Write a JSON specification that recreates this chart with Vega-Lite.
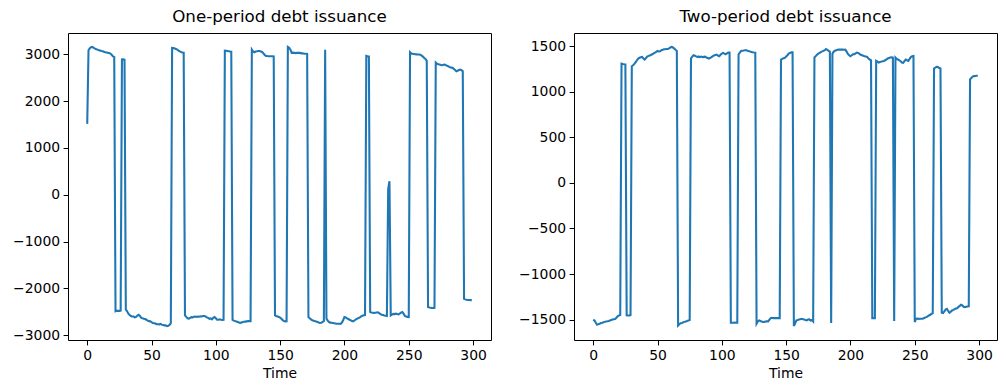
{
 "$schema": "https://vega.github.io/schema/vega-lite/v6.json",
 "background": "white",
 "padding": {"left": 5, "top": 8, "right": 5, "bottom": 2},
 "spacing": 19,
 "datasets": {"d": [
{"t":0,"a":1514,"b":-1502},{"t":1,"a":3085,"b":-1510},{"t":2,"a":3130,"b":-1535},{"t":3,"a":3150,"b":-1556},{"t":4,"a":3157,"b":-1550},{"t":5,"a":3140,"b":-1545},{"t":6,"a":3120,"b":-1538},{"t":7,"a":3110,"b":-1535},{"t":8,"a":3100,"b":-1530},{"t":9,"a":3085,"b":-1525},
{"t":10,"a":3080,"b":-1520},{"t":11,"a":3070,"b":-1518},{"t":12,"a":3065,"b":-1515},{"t":13,"a":3055,"b":-1510},{"t":14,"a":3045,"b":-1505},{"t":15,"a":3040,"b":-1500},{"t":16,"a":3035,"b":-1497},{"t":17,"a":3030,"b":-1494},{"t":18,"a":3015,"b":-1480},{"t":19,"a":2990,"b":-1465},
{"t":20,"a":2955,"b":-1454},{"t":21,"a":2945,"b":-1450},{"t":22,"a":-2490,"b":1309},{"t":23,"a":-2480,"b":1305},{"t":24,"a":-2480,"b":1302},{"t":25,"a":-2480,"b":1300},{"t":26,"a":-2475,"b":-1454},{"t":27,"a":2890,"b":-1455},{"t":28,"a":2895,"b":-1454},{"t":29,"a":2885,"b":-1452},
{"t":30,"a":-2450,"b":1280},{"t":31,"a":-2490,"b":1290},{"t":32,"a":-2540,"b":1305},{"t":33,"a":-2570,"b":1325},{"t":34,"a":-2590,"b":1345},{"t":35,"a":-2600,"b":1364},{"t":36,"a":-2600,"b":1372},{"t":37,"a":-2620,"b":1378},{"t":38,"a":-2610,"b":1382},{"t":39,"a":-2580,"b":1365},
{"t":40,"a":-2565,"b":1353},{"t":41,"a":-2590,"b":1370},{"t":42,"a":-2630,"b":1385},{"t":43,"a":-2640,"b":1393},{"t":44,"a":-2648,"b":1398},{"t":45,"a":-2655,"b":1405},{"t":46,"a":-2670,"b":1411},{"t":47,"a":-2690,"b":1420},{"t":48,"a":-2700,"b":1428},{"t":49,"a":-2705,"b":1438},
{"t":50,"a":-2720,"b":1448},{"t":51,"a":-2740,"b":1442},{"t":52,"a":-2745,"b":1444},{"t":53,"a":-2750,"b":1455},{"t":54,"a":-2765,"b":1460},{"t":55,"a":-2768,"b":1466},{"t":56,"a":-2770,"b":1465},{"t":57,"a":-2760,"b":1468},{"t":58,"a":-2775,"b":1469},{"t":59,"a":-2785,"b":1475},
{"t":60,"a":-2790,"b":1485},{"t":61,"a":-2790,"b":1491},{"t":62,"a":-2805,"b":1485},{"t":63,"a":-2800,"b":1473},{"t":64,"a":-2780,"b":1460},{"t":65,"a":-2745,"b":1448},{"t":66,"a":3136,"b":-1564},{"t":67,"a":3135,"b":-1550},{"t":68,"a":3125,"b":-1540},{"t":69,"a":3115,"b":-1538},
{"t":70,"a":3100,"b":-1530},{"t":71,"a":3080,"b":-1525},{"t":72,"a":3064,"b":-1520},{"t":73,"a":3050,"b":-1515},{"t":74,"a":3040,"b":-1509},{"t":75,"a":3036,"b":-1505},{"t":76,"a":-2576,"b":1364},{"t":77,"a":-2610,"b":1385},{"t":78,"a":-2640,"b":1400},{"t":79,"a":-2648,"b":1395},
{"t":80,"a":-2630,"b":1388},{"t":81,"a":-2615,"b":1382},{"t":82,"a":-2620,"b":1385},{"t":83,"a":-2605,"b":1380},{"t":84,"a":-2600,"b":1385},{"t":85,"a":-2610,"b":1378},{"t":86,"a":-2600,"b":1382},{"t":87,"a":-2605,"b":1384},{"t":88,"a":-2595,"b":1375},{"t":89,"a":-2600,"b":1370},
{"t":90,"a":-2590,"b":1364},{"t":91,"a":-2590,"b":1372},{"t":92,"a":-2600,"b":1380},{"t":93,"a":-2620,"b":1390},{"t":94,"a":-2630,"b":1398},{"t":95,"a":-2650,"b":1403},{"t":96,"a":-2640,"b":1407},{"t":97,"a":-2660,"b":1395},{"t":98,"a":-2630,"b":1389},{"t":99,"a":-2612,"b":1405},
{"t":100,"a":-2640,"b":1418},{"t":101,"a":-2668,"b":1426},{"t":102,"a":-2670,"b":1418},{"t":103,"a":-2660,"b":1411},{"t":104,"a":-2670,"b":1420},{"t":105,"a":-2675,"b":1429},{"t":106,"a":-2672,"b":1430},{"t":107,"a":3078,"b":-1535},{"t":108,"a":3075,"b":-1535},{"t":109,"a":3070,"b":-1535},
{"t":110,"a":3065,"b":-1533},{"t":111,"a":3060,"b":-1535},{"t":112,"a":3057,"b":-1535},{"t":113,"a":-2675,"b":1411},{"t":114,"a":-2690,"b":1430},{"t":115,"a":-2700,"b":1448},{"t":116,"a":-2710,"b":1450},{"t":117,"a":-2720,"b":1452},{"t":118,"a":-2730,"b":1455},{"t":119,"a":-2740,"b":1455},
{"t":120,"a":-2730,"b":1450},{"t":121,"a":-2720,"b":1445},{"t":122,"a":-2715,"b":1440},{"t":123,"a":-2710,"b":1436},{"t":124,"a":-2705,"b":1432},{"t":125,"a":-2700,"b":1430},{"t":126,"a":-2696,"b":1429},{"t":127,"a":-2700,"b":-1545},{"t":128,"a":3100,"b":-1520},{"t":129,"a":3060,"b":-1509},
{"t":130,"a":3043,"b":-1515},{"t":131,"a":3060,"b":-1522},{"t":132,"a":3065,"b":-1527},{"t":133,"a":3072,"b":-1525},{"t":134,"a":3070,"b":-1522},{"t":135,"a":3060,"b":-1520},{"t":136,"a":3050,"b":-1520},{"t":137,"a":3020,"b":-1500},{"t":138,"a":2985,"b":-1485},{"t":139,"a":2966,"b":-1480},
{"t":140,"a":2962,"b":-1484},{"t":141,"a":2960,"b":-1484},{"t":142,"a":2960,"b":-1483},{"t":143,"a":2958,"b":-1484},{"t":144,"a":2958,"b":-1484},{"t":145,"a":2955,"b":-1484},{"t":146,"a":-2576,"b":1353},{"t":147,"a":-2590,"b":1360},{"t":148,"a":-2600,"b":1368},{"t":149,"a":-2610,"b":1371},
{"t":150,"a":-2625,"b":1385},{"t":151,"a":-2650,"b":1400},{"t":152,"a":-2680,"b":1418},{"t":153,"a":-2700,"b":1425},{"t":154,"a":-2705,"b":1432},{"t":155,"a":-2703,"b":1432},{"t":156,"a":3157,"b":-1571},{"t":157,"a":3140,"b":-1540},{"t":158,"a":3100,"b":-1509},{"t":159,"a":3030,"b":-1505},
{"t":160,"a":3035,"b":-1500},{"t":161,"a":3030,"b":-1495},{"t":162,"a":3025,"b":-1491},{"t":163,"a":3030,"b":-1495},{"t":164,"a":3030,"b":-1500},{"t":165,"a":3030,"b":-1505},{"t":166,"a":3025,"b":-1509},{"t":167,"a":3020,"b":-1500},{"t":168,"a":3015,"b":-1498},{"t":169,"a":3010,"b":-1510},
{"t":170,"a":3010,"b":-1505},{"t":171,"a":3008,"b":-1520},{"t":172,"a":-2611,"b":1375},{"t":173,"a":-2640,"b":1390},{"t":174,"a":-2665,"b":1405},{"t":175,"a":-2680,"b":1418},{"t":176,"a":-2690,"b":1425},{"t":177,"a":-2700,"b":1435},{"t":178,"a":-2710,"b":1442},{"t":179,"a":-2720,"b":1448},
{"t":180,"a":-2730,"b":1455},{"t":181,"a":-2739,"b":1469},{"t":182,"a":-2735,"b":1460},{"t":183,"a":-2718,"b":1448},{"t":184,"a":-2700,"b":1440},{"t":185,"a":3095,"b":-1538},{"t":186,"a":-2647,"b":1418},{"t":187,"a":-2690,"b":1440},{"t":188,"a":-2720,"b":1450},{"t":189,"a":-2732,"b":1455},
{"t":190,"a":-2735,"b":1460},{"t":191,"a":-2740,"b":1462},{"t":192,"a":-2745,"b":1462},{"t":193,"a":-2750,"b":1462},{"t":194,"a":-2755,"b":1462},{"t":195,"a":-2755,"b":1460},{"t":196,"a":-2755,"b":1462},{"t":197,"a":-2760,"b":1440},{"t":198,"a":-2730,"b":1415},{"t":199,"a":-2680,"b":1400},
{"t":200,"a":-2611,"b":1389},{"t":201,"a":-2620,"b":1400},{"t":202,"a":-2640,"b":1410},{"t":203,"a":-2654,"b":1411},{"t":204,"a":-2670,"b":1420},{"t":205,"a":-2685,"b":1429},{"t":206,"a":-2700,"b":1425},{"t":207,"a":-2703,"b":1415},{"t":208,"a":-2680,"b":1405},{"t":209,"a":-2660,"b":1400},
{"t":210,"a":-2645,"b":1395},{"t":211,"a":-2633,"b":1390},{"t":212,"a":-2620,"b":1385},{"t":213,"a":-2600,"b":1382},{"t":214,"a":-2585,"b":1365},{"t":215,"a":-2576,"b":1353},{"t":216,"a":-2570,"b":1345},{"t":217,"a":2966,"b":-1484},{"t":218,"a":2960,"b":-1484},{"t":219,"a":2955,"b":-1484},
{"t":220,"a":-2505,"b":1338},{"t":221,"a":-2515,"b":1330},{"t":222,"a":-2520,"b":1320},{"t":223,"a":-2527,"b":1325},{"t":224,"a":-2520,"b":1330},{"t":225,"a":-2515,"b":1335},{"t":226,"a":-2512,"b":1338},{"t":227,"a":-2530,"b":1345},{"t":228,"a":-2550,"b":1355},{"t":229,"a":-2562,"b":1364},
{"t":230,"a":-2570,"b":1370},{"t":231,"a":-2578,"b":1375},{"t":232,"a":-2585,"b":1378},{"t":233,"a":-2590,"b":1375},{"t":234,"a":120,"b":-1516},{"t":235,"a":290,"b":1375},{"t":236,"a":-2576,"b":1360},{"t":237,"a":-2560,"b":1353},{"t":238,"a":-2545,"b":1345},{"t":239,"a":-2550,"b":1335},
{"t":240,"a":-2541,"b":1320},{"t":241,"a":-2550,"b":1316},{"t":242,"a":-2555,"b":1335},{"t":243,"a":-2540,"b":1353},{"t":244,"a":-2520,"b":1345},{"t":245,"a":-2505,"b":1338},{"t":246,"a":-2540,"b":1360},{"t":247,"a":-2590,"b":1380},{"t":248,"a":-2600,"b":1389},{"t":249,"a":-2611,"b":1392},
{"t":250,"a":-2615,"b":-1527},{"t":251,"a":3043,"b":-1491},{"t":252,"a":3015,"b":-1490},{"t":253,"a":3010,"b":-1492},{"t":254,"a":3005,"b":-1491},{"t":255,"a":3000,"b":-1490},{"t":256,"a":2998,"b":-1491},{"t":257,"a":2995,"b":-1485},{"t":258,"a":2994,"b":-1478},{"t":259,"a":2990,"b":-1473},
{"t":260,"a":2970,"b":-1465},{"t":261,"a":2950,"b":-1455},{"t":262,"a":2920,"b":-1447},{"t":263,"a":2900,"b":-1438},{"t":264,"a":2859,"b":-1429},{"t":265,"a":-2399,"b":1255},{"t":266,"a":-2410,"b":1265},{"t":267,"a":-2415,"b":1273},{"t":268,"a":-2420,"b":1270},{"t":269,"a":-2420,"b":1260},
{"t":270,"a":-2415,"b":1255},{"t":271,"a":2824,"b":-1425},{"t":272,"a":2800,"b":-1429},{"t":273,"a":2788,"b":-1410},{"t":274,"a":2780,"b":-1390},{"t":275,"a":2770,"b":-1382},{"t":276,"a":2766,"b":-1405},{"t":277,"a":2775,"b":-1425},{"t":278,"a":2781,"b":-1415},{"t":279,"a":2765,"b":-1400},
{"t":280,"a":2753,"b":-1393},{"t":281,"a":2740,"b":-1385},{"t":282,"a":2725,"b":-1378},{"t":283,"a":2715,"b":-1375},{"t":284,"a":2711,"b":-1360},{"t":285,"a":2690,"b":-1350},{"t":286,"a":2665,"b":-1338},{"t":287,"a":2639,"b":-1345},{"t":288,"a":2650,"b":-1360},{"t":289,"a":2665,"b":-1364},
{"t":290,"a":2675,"b":-1360},{"t":291,"a":2660,"b":-1356},{"t":292,"a":2639,"b":-1355},{"t":293,"a":-2222,"b":1135},{"t":294,"a":-2235,"b":1150},{"t":295,"a":-2245,"b":1165},{"t":296,"a":-2250,"b":1171},{"t":297,"a":-2250,"b":1172},{"t":298,"a":-2252,"b":1175},{"t":299,"a":-2252,"b":1175}
 ]},
 "hconcat": [
  {
   "width": 423, "height": 307,
   "data": {"name": "d"},
   "title": {"text": "One-period debt issuance"},
   "mark": {"type": "line", "color": "#1f77b4", "strokeWidth": 2.08},
   "encoding": {
    "x": {"field": "t", "type": "quantitative", "scale": {"domain": [-14.95, 313.95], "nice": false, "zero": false}, "axis": {"values": [0, 50, 100, 150, 200, 250, 300], "title": "Time", "format": "d"}},
    "y": {"field": "a", "type": "quantitative", "scale": {"domain": [-3103, 3455], "nice": false, "zero": false}, "axis": {"values": [-3000, -2000, -1000, 0, 1000, 2000, 3000], "title": null, "format": "d"}}
   }
  },
  {
   "width": 423, "height": 307,
   "data": {"name": "d"},
   "title": {"text": "Two-period debt issuance"},
   "mark": {"type": "line", "color": "#1f77b4", "strokeWidth": 2.08},
   "encoding": {
    "x": {"field": "t", "type": "quantitative", "scale": {"domain": [-14.95, 313.95], "nice": false, "zero": false}, "axis": {"values": [0, 50, 100, 150, 200, 250, 300], "title": "Time", "format": "d"}},
    "y": {"field": "b", "type": "quantitative", "scale": {"domain": [-1724, 1644], "nice": false, "zero": false}, "axis": {"values": [-1500, -1000, -500, 0, 500, 1000, 1500], "title": null, "format": "d"}}
   }
  }
 ],
 "config": {
  "view": {"stroke": "black", "strokeWidth": 1},
  "axis": {"grid": false, "domain": false, "tickColor": "black", "tickSize": 4.9, "tickWidth": 1, "labelColor": "black", "labelFont": "DejaVu Sans", "labelFontSize": 13.9, "labelPadding": 3.5, "labelFlush": false, "titleFont": "DejaVu Sans", "titleFontSize": 13.9, "titleFontWeight": "normal", "titleColor": "black", "titlePadding": 4},
  "axisY": {"minExtent": 62, "maxExtent": 62},
  "title": {"font": "DejaVu Sans", "fontSize": 16.7, "fontWeight": "normal", "color": "black", "offset": 7, "anchor": "middle"}
 }
}
